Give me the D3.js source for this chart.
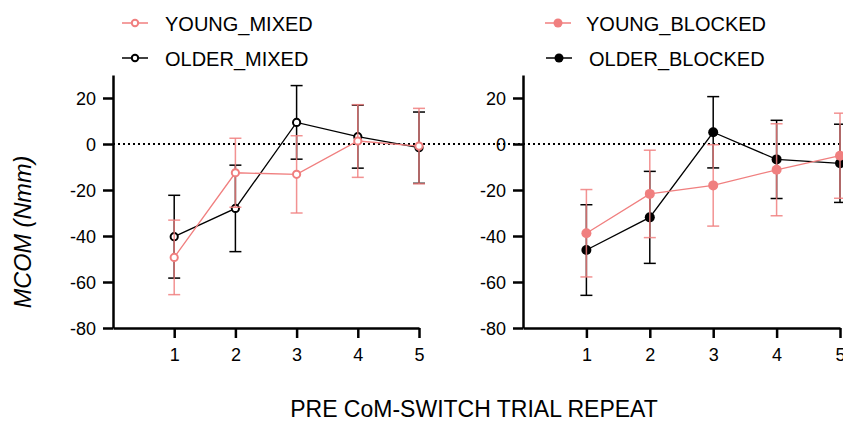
<!DOCTYPE html>
<html lang="en">
<head>
<meta charset="utf-8">
<title>MCOM pre CoM-switch trial repeat</title>
<style>
  body { margin: 0; background: #fff; }
  svg { display: block; font-family: "Liberation Sans", Arial, sans-serif; }
  .axis path, .axis line { stroke: #000; stroke-width: 2.5px; }
  .axis text { font-size: 18px; fill: #000; }
  .zero { stroke: #000; stroke-width: 2px; stroke-dasharray: 2 3; }
  .legend text { font-size: 20px; fill: #000; }
</style>
</head>
<body>
<script src="https://cdn.jsdelivr.net/npm/d3@7"></script>
<script>
// ---- data ----
const repeats = [1, 2, 3, 4, 5];
const yTicks = [-80, -60, -40, -20, 0, 20];

const youngMixed     = [-49.3, -12.5, -13.2,  1.3, -0.9];
const youngMixedSd   = [ 16.2,  15.0,  16.8, 15.8, 16.4];
const olderMixed     = [-40.3, -28.0,   9.4,  3.2, -1.6];
const olderMixedSd   = [ 18.0,  18.8,  16.0, 13.7, 15.5];

const youngBlocked   = [-38.8, -21.7, -18.0, -11.2, -5.1];
const youngBlockedSd = [ 19.0,  19.0,  17.7,  20.0, 18.5];
const olderBlocked   = [-46.1, -31.9,   5.1,  -6.7, -8.4];
const olderBlockedSd = [ 19.7,  20.0,  15.5,  17.0, 17.0];

const PINK = "#f07f7f", BLACK = "#000";

const width = 843, height = 422;
const svg = d3.select("body").append("svg")
    .attr("width", width)
    .attr("height", height);

const y = d3.scaleLinear().domain([-80, 30]).range([328, 75]);
const plain = d => String(d);   // keep ASCII hyphen like the original

const panels = [
  {
    x: d3.scaleLinear().domain([0, 5]).range([113, 419]),
    series: [
      { name: "OLDER_MIXED", mean: olderMixed, sd: olderMixedSd, color: BLACK, filled: false },
      { name: "YOUNG_MIXED", mean: youngMixed, sd: youngMixedSd, color: PINK, filled: false }
    ],
    legend: [
      { name: "YOUNG_MIXED", color: PINK, filled: false, lx: 135, tx: 165, ly: 23 },
      { name: "OLDER_MIXED", color: BLACK, filled: false, lx: 135, tx: 165, ly: 58 }
    ]
  },
  {
    x: d3.scaleLinear().domain([0, 5]).range([523, 840]),
    series: [
      { name: "OLDER_BLOCKED", mean: olderBlocked, sd: olderBlockedSd, color: BLACK, filled: true },
      { name: "YOUNG_BLOCKED", mean: youngBlocked, sd: youngBlockedSd, color: PINK, filled: true }
    ],
    legend: [
      { name: "YOUNG_BLOCKED", color: PINK, filled: true, lx: 558, tx: 586, ly: 23 },
      { name: "OLDER_BLOCKED", color: BLACK, filled: true, lx: 559, tx: 589, ly: 58 }
    ]
  }
];

panels.forEach(p => {
  const g = svg.append("g");
  const x = p.x;

  // zero reference line
  g.append("line")
    .attr("class", "zero")
    .attr("x1", x.range()[0]).attr("x2", width)
    .attr("y1", y(0)).attr("y2", y(0));

  // axes
  g.append("g")
    .attr("class", "axis")
    .attr("transform", `translate(${x.range()[0]},0)`)
    .call(d3.axisLeft(y).tickValues(yTicks).tickFormat(plain)
      .tickSize(10).tickPadding(7).tickSizeOuter(0))
    .call(a => a.selectAll("text").attr("dy", "0.36em"));

  g.append("g")
    .attr("class", "axis")
    .attr("transform", `translate(0,${y(-80)})`)
    .call(d3.axisBottom(x).tickValues(repeats).tickFormat(plain)
      .tickSize(10).tickPadding(10).tickSizeOuter(0));

  // series
  p.series.forEach(s => {
    const pts = repeats.map((r, i) => ({ r, m: s.mean[i], sd: s.sd[i] }));
    const sg = g.append("g").attr("stroke", s.color);

    const eb = sg.selectAll("g.err").data(pts).join("g")
        .attr("class", "err")
        .attr("stroke-width", 1.5)
        .attr("stroke-opacity", s.color === PINK ? 0.85 : 1);
    eb.append("line")
      .attr("x1", d => x(d.r)).attr("x2", d => x(d.r))
      .attr("y1", d => y(d.m - d.sd)).attr("y2", d => y(d.m + d.sd));
    eb.append("line")
      .attr("x1", d => x(d.r) - 6).attr("x2", d => x(d.r) + 6)
      .attr("y1", d => y(d.m + d.sd)).attr("y2", d => y(d.m + d.sd));
    eb.append("line")
      .attr("x1", d => x(d.r) - 6).attr("x2", d => x(d.r) + 6)
      .attr("y1", d => y(d.m - d.sd)).attr("y2", d => y(d.m - d.sd));

    sg.append("path")
      .attr("fill", "none")
      .attr("stroke-width", 1.3)
      .attr("d", d3.line().x(d => x(d.r)).y(d => y(d.m))(pts));

    sg.selectAll("circle").data(pts).join("circle")
      .attr("cx", d => x(d.r)).attr("cy", d => y(d.m))
      .attr("r", s.filled ? 5 : 3.6)
      .attr("fill", s.filled ? s.color : "#fff")
      .attr("stroke-width", s.filled ? 0 : 2);
  });

  // legend
  const lg = svg.append("g").attr("class", "legend");
  p.legend.forEach(l => {
    lg.append("line")
      .attr("x1", l.lx - 13).attr("x2", l.lx + 13)
      .attr("y1", l.ly).attr("y2", l.ly)
      .attr("stroke", l.color).attr("stroke-width", 1.5);
    lg.append("circle")
      .attr("cx", l.lx).attr("cy", l.ly)
      .attr("r", l.filled ? 4.5 : 3.2)
      .attr("fill", l.filled ? l.color : "#fff")
      .attr("stroke", l.color)
      .attr("stroke-width", l.filled ? 0 : 2);
    lg.append("text")
      .attr("x", l.tx).attr("y", l.ly + 1)
      .attr("dy", "0.35em")
      .text(l.name);
  });
});

// axis titles
svg.append("text")
  .attr("transform", "translate(31,232) rotate(-90)")
  .attr("text-anchor", "middle")
  .style("font-size", "23.5px")
  .style("font-style", "italic")
  .text("MCOM (Nmm)");

svg.append("text")
  .attr("x", 474).attr("y", 417)
  .attr("text-anchor", "middle")
  .style("font-size", "23px")
  .text("PRE CoM-SWITCH TRIAL REPEAT");
</script>
</body>
</html>
